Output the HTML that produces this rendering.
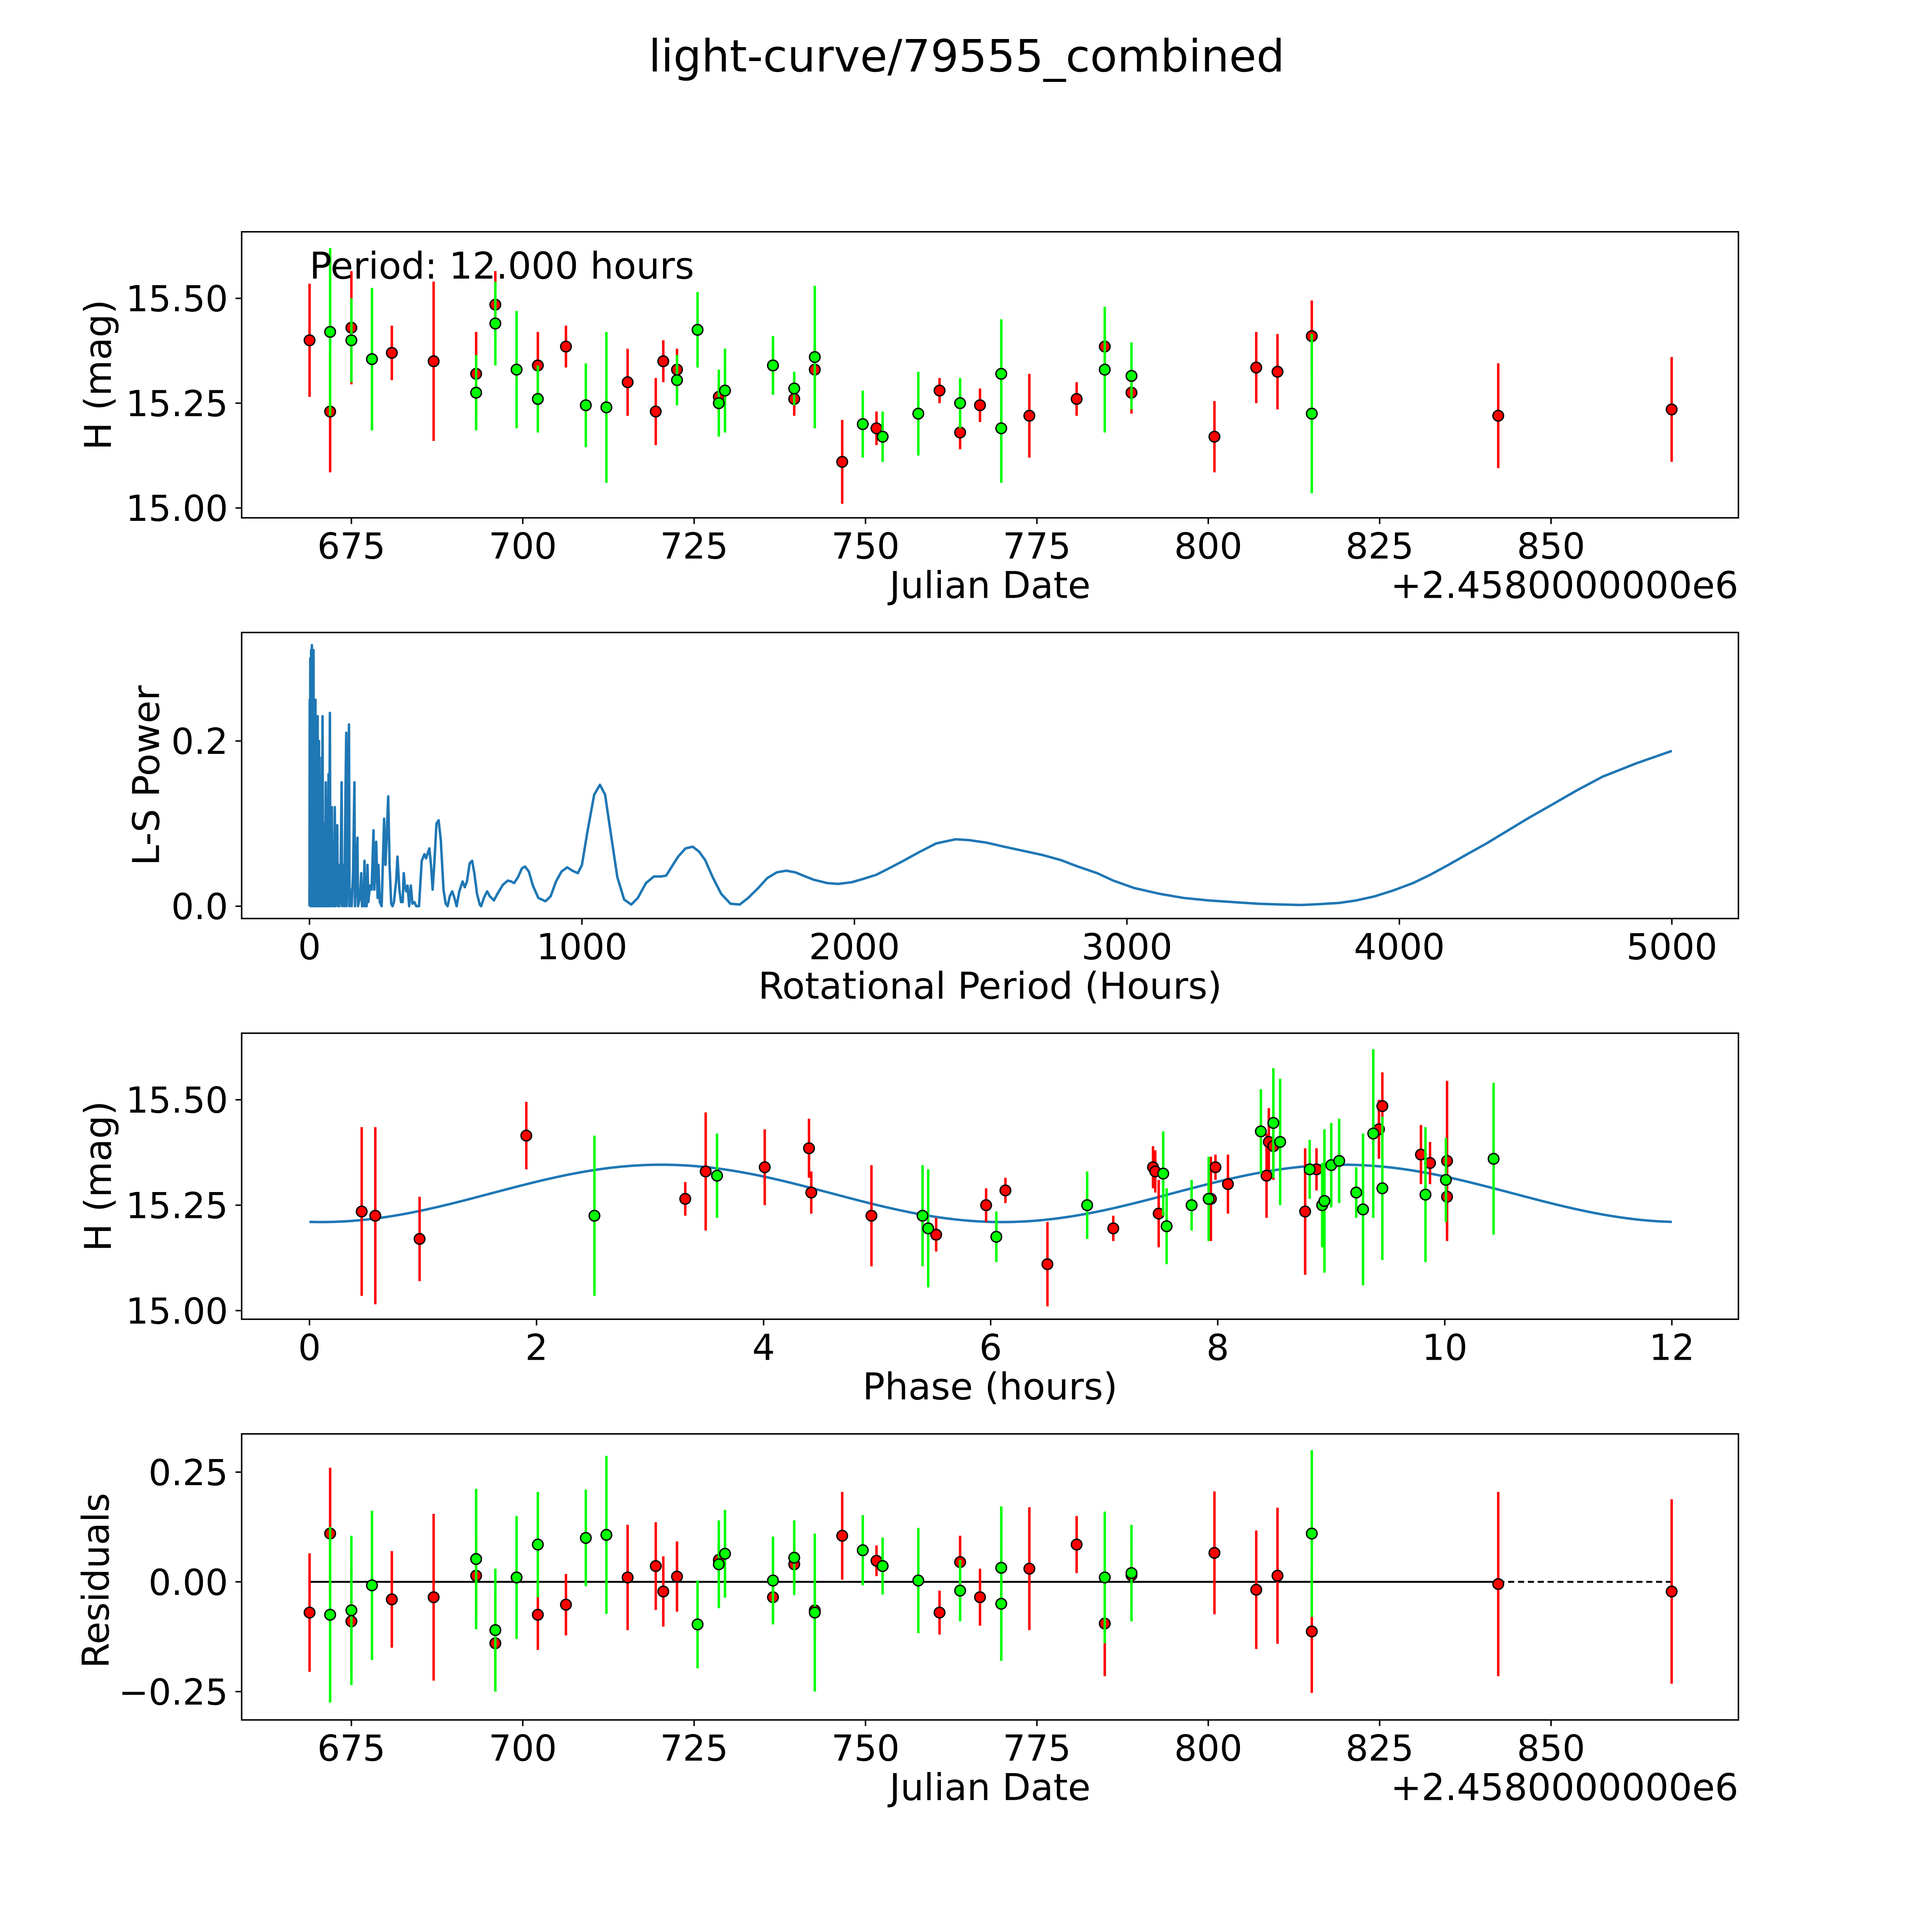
<!DOCTYPE html>
<html><head><meta charset="utf-8"><style>
html,body{margin:0;padding:0;background:#fff;overflow:hidden;width:100vw;height:100vh;}
svg{display:block;width:100vw;height:100vh;font-family:"DejaVu Sans","Liberation Sans",sans-serif;}
</style></head><body>
<svg id="fig" viewBox="0 0 1567 1567" preserveAspectRatio="xMidYMid meet" xmlns="http://www.w3.org/2000/svg">
<rect x="0" y="0" width="1567" height="1567" fill="#fff"/>
<text x="784" y="58" font-size="36" text-anchor="middle">light-curve/79555_combined</text>
<g id="layer"></g>
</svg>
<script>
// ---- Panel 1 / residual data (JD offset from 2458000) ----
const redJD  = [668.9,671.9,675,680.9,687,693.2,696,702.2,706.3,715.3,719.4,720.5,722.5,728.6,736.5,739.6,742.6,746.6,751.6,760.8,763.8,766.7,773.9,780.8,784.9,788.8,800.9,807,810.1,815.1,842.3,867.6];
const redMag = [15.40,15.23,15.43,15.37,15.35,15.32,15.485,15.34,15.385,15.30,15.23,15.35,15.33,15.265,15.34,15.26,15.33,15.11,15.19,15.28,15.18,15.245,15.22,15.26,15.385,15.275,15.17,15.335,15.325,15.41,15.22,15.235];
const redErr = [0.135,0.145,0.135,0.065,0.19,0.1,0.08,0.08,0.05,0.08,0.08,0.05,0.05,0.04,0.04,0.04,0.06,0.1,0.04,0.03,0.04,0.04,0.1,0.04,0.07,0.05,0.085,0.085,0.09,0.085,0.125,0.125];
const grnJD  = [671.9,675,678,693.2,696,699.1,702.2,709.2,712.2,722.5,725.5,728.6,729.5,736.5,739.6,742.6,749.6,752.5,757.7,763.8,769.8,769.8,784.9,788.8,815.1];
const grnMag = [15.42,15.40,15.355,15.275,15.44,15.33,15.26,15.245,15.24,15.305,15.425,15.25,15.28,15.34,15.285,15.36,15.20,15.17,15.225,15.25,15.32,15.19,15.33,15.315,15.225];
const grnErr = [0.2,0.1,0.17,0.09,0.1,0.14,0.08,0.1,0.18,0.06,0.09,0.08,0.1,0.07,0.04,0.17,0.08,0.06,0.1,0.06,0.13,0.13,0.15,0.08,0.19];
// ---- Periodogram ----
const lsPer = [0,1,2,3,4,6,7,9,10,12,13,15,16,18,19,22,23,26,27,30,32,35,37,40,42,45,46,48,50,55,57,60,62,65,67,70,72,75,77,82,84,88,90,93,95,102,104,108,110,114,118,120,125,128,132,135,137,140,145,147,152,155,160,165,167,172,176,178,185,190,193,198,202,205,210,213,216,222,228,235,238,245,250,253,258,265,274,279,284,289,294,300,305,310,318,323,330,336,342,346,350,355,360,366,372,378,385,392,402,412,422,428,440,446,452,458,466,474,482,492,500,507,515,524,532,540,550,562,570,578,588,597,605,615,625,630,640,652,662,677,690,710,728,740,751,765,780,791,805,820,840,866,885,905,925,946,965,985,1000,1020,1045,1066,1085,1105,1130,1155,1181,1205,1235,1264,1290,1309,1330,1353,1380,1407,1430,1452,1480,1511,1545,1579,1610,1647,1680,1715,1750,1783,1820,1851,1900,1941,1990,2032,2080,2122,2180,2235,2300,2371,2420,2484,2550,2620,2690,2756,2820,2891,2950,3027,3120,3208,3300,3389,3480,3570,3640,3706,3780,3842,3910,3977,4050,4113,4180,4249,4320,4385,4470,4566,4650,4747,4870,5000];
const lsPow = [0,0.25,0.02,0.30,0,0.31,0.05,0.316,0,0.30,0.05,0.31,0,0.2,0,0.25,0,0.18,0,0.23,0,0.2,0,0.12,0,0.18,0,0.23,0,0.1,0,0.15,0,0.09,0,0.16,0,0.234,0,0.12,0,0.06,0,0.12,0,0.098,0,0.05,0,0.03,0.15,0,0.05,0,0.13,0.21,0,0.05,0.22,0,0.02,0,0.04,0.15,0,0.04,0.083,0,0.01,0.04,0,0,0.055,0,0,0.05,0.005,0.025,0.02,0.092,0.02,0.078,0.01,0.05,0.005,0,0.106,0.05,0.09,0.133,0.05,0.003,0,0.005,0.03,0.06,0.02,0.005,0.005,0.04,0.025,0.018,0.025,0,0.025,0.003,0.005,0,0,0.055,0.063,0.058,0.07,0.05,0.02,0.05,0.1,0.104,0.08,0.02,0.003,0,0.012,0.018,0.01,0,0.018,0.03,0.023,0.03,0.052,0.055,0.04,0.015,0.002,0,0.01,0.018,0.012,0.007,0.015,0.026,0.031,0.03,0.028,0.035,0.046,0.048,0.042,0.025,0.01,0.006,0.012,0.03,0.042,0.047,0.043,0.04,0.05,0.09,0.135,0.147,0.135,0.09,0.035,0.008,0.002,0.01,0.028,0.036,0.036,0.037,0.048,0.06,0.07,0.072,0.066,0.056,0.035,0.015,0.003,0.002,0.01,0.022,0.034,0.041,0.043,0.041,0.036,0.032,0.028,0.027,0.029,0.033,0.038,0.045,0.055,0.065,0.076,0.081,0.08,0.077,0.072,0.067,0.062,0.056,0.048,0.04,0.031,0.022,0.015,0.01,0.007,0.005,0.003,0.002,0.0015,0.0025,0.004,0.007,0.012,0.019,0.028,0.038,0.05,0.063,0.076,0.089,0.106,0.124,0.14,0.157,0.173,0.188];
// ---- Phase-folded data ----
const redPh   = [0.46,0.58,0.97,1.91,3.31,3.49,4.01,4.40,4.42,4.95,5.52,5.96,6.13,6.5,7.08,7.43,7.45,7.48,7.94,7.98,8.09,8.43,8.45,8.49,8.77,8.87,9.42,9.45,9.79,9.87,10.02,10.02];
const redPhMag= [15.235,15.225,15.17,15.415,15.265,15.33,15.34,15.385,15.28,15.225,15.18,15.25,15.285,15.11,15.195,15.34,15.33,15.23,15.265,15.34,15.30,15.32,15.40,15.39,15.235,15.335,15.43,15.485,15.37,15.35,15.355,15.27];
const redPhErr= [0.2,0.21,0.1,0.08,0.04,0.14,0.09,0.07,0.05,0.12,0.04,0.04,0.03,0.1,0.03,0.05,0.05,0.08,0.1,0.03,0.07,0.1,0.08,0.08,0.15,0.05,0.07,0.08,0.07,0.05,0.19,0.085];
const grnPh   = [2.51,3.59,5.40,5.45,6.05,6.85,7.52,7.55,7.77,7.92,8.38,8.49,8.55,8.81,8.92,8.94,9.00,9.07,9.22,9.28,9.37,9.45,9.83,10.01,10.43];
const grnPhMag= [15.225,15.32,15.225,15.195,15.175,15.25,15.325,15.2,15.25,15.265,15.425,15.445,15.40,15.335,15.25,15.26,15.345,15.355,15.28,15.24,15.42,15.29,15.275,15.31,15.36];
const grnPhErr= [0.19,0.1,0.12,0.14,0.06,0.08,0.1,0.09,0.06,0.1,0.1,0.13,0.15,0.07,0.1,0.17,0.1,0.1,0.06,0.18,0.2,0.17,0.16,0.1,0.18];
// ---- Model (fitted sinusoid) parameters ----
const modelMean = [15.278];
const modelAmp  = [0.068];
const modelPeak = [3.1];
// ---- Residuals ----
const redResJD  = redJD;
const redRes    = [-0.07,0.11,-0.09,-0.04,-0.035,0.014,-0.14,-0.075,-0.052,0.01,0.036,-0.022,0.012,0.05,-0.035,0.04,-0.065,0.105,0.048,-0.07,0.045,-0.035,0.03,0.085,-0.095,0.015,0.066,-0.018,0.014,-0.113,-0.005,-0.022];
const redResErr = [0.135,0.15,0.13,0.11,0.19,0.1,0.11,0.08,0.07,0.12,0.1,0.08,0.08,0.04,0.05,0.05,0.07,0.1,0.035,0.05,0.06,0.065,0.14,0.065,0.12,0.08,0.14,0.135,0.155,0.14,0.21,0.21];
const grnResJD  = [671.9,675,678,693.2,696,699.1,702.2,709.2,712.2,725.5,728.6,729.5,736.5,739.6,742.6,749.6,752.5,757.7,763.8,769.8,769.8,784.9,788.8,815.1];
const grnRes    = [-0.075,-0.065,-0.008,0.052,-0.11,0.01,0.085,0.1,0.107,-0.097,0.04,0.064,0.003,0.055,-0.07,0.072,0.036,0.003,-0.02,0.032,-0.05,0.01,0.02,0.11];
const grnResErr = [0.2,0.17,0.17,0.16,0.14,0.14,0.12,0.11,0.18,0.1,0.1,0.1,0.1,0.085,0.18,0.08,0.065,0.12,0.07,0.14,0.13,0.15,0.11,0.19];
const jdTicks   = [675,700,725,750,775,800,825,850];
const magTicks  = [15.00,15.25,15.50];
const lsXTicks  = [0,1000,2000,3000,4000,5000];
const lsYTicks  = [0.0,0.2];
const phTicks   = [0,2,4,6,8,10,12];
const resTicks  = [-0.25,0.00,0.25];

const NS='http://www.w3.org/2000/svg';
const layer=document.getElementById('layer');
function mk(tag,attrs,parent){const e=document.createElementNS(NS,tag);for(const k in attrs)e.setAttribute(k,attrs[k]);(parent||layer).appendChild(e);return e;}
function lin(d0,d1,r0,r1){return v=>r0+(v-d0)*(r1-r0)/(d1-d0);}

const L=196,R=1410;
const TF=29, LF=30;
const xJD=lin(675,850,285,1258);
function frame(top,name){
  const g=mk('g',{});
  
  
  const r=mk('rect',{x:L,y:top,width:R-L,height:232,fill:'none',stroke:'#000','stroke-width':1.2},g);
  
  
  return g;
}
function xticks(g,ticks,sx,bottom,fmt,name){
  ticks.forEach(t=>{
    const x=sx(t);
    mk('line',{x1:x,y1:bottom,x2:x,y2:bottom+5,stroke:'#000','stroke-width':1.2},g);
    const tx=mk('text',{x:x,y:bottom+33,'font-size':TF,'text-anchor':'middle'},g);
    tx.textContent=fmt(t);
    
    
  });
}
function yticks(g,ticks,sy,fmt,name){
  ticks.forEach(t=>{
    const y=sy(t);
    mk('line',{x1:L-5,y1:y,x2:L,y2:y,stroke:'#000','stroke-width':1.2},g);
    const tx=mk('text',{x:L-11,y:y+10.5,'font-size':TF,'text-anchor':'end'},g);
    tx.textContent=fmt(t);
    
    
  });
}
function label(g,txt,x,y,rot,name){
  const t=mk('text',{x:x,y:y,'font-size':LF,'text-anchor':'middle'},g);
  if(rot)t.setAttribute('transform','rotate(-90 '+x+' '+y+')');
  t.textContent=txt;
  
  
}
function errpts(g,xs,ys,es,sx,sy,col,name){
  xs.forEach((xv,i)=>{
    const x=sx(xv);
    const bar=mk('line',{x1:x,y1:sy(ys[i]-es[i]),x2:x,y2:sy(ys[i]+es[i]),stroke:col,'stroke-width':2},g);
    
    
  });
  xs.forEach((xv,i)=>{
    const c=mk('circle',{cx:sx(xv),cy:sy(ys[i]),r:4.3,fill:col,stroke:'#000','stroke-width':1.1},g);
    
    
  });
}
const fmt2=v=>v.toFixed(2).replace('-','\u2212');

// Panel 1
{
  const g=frame(188,'light-curve-panel');
  const sy=lin(15.0,15.5,412,242);
  errpts(g,redJD,redMag,redErr,xJD,sy,'#ff0000','red-series');
  errpts(g,grnJD,grnMag,grnErr,xJD,sy,'#00ff00','green-series');
  xticks(g,jdTicks,xJD,420,v=>String(v),'x-axis');
  yticks(g,magTicks,sy,fmt2,'y-axis');
  label(g,'Julian Date',803,485,false,'x-axis-title');
  label(g,'H (mag)',90,304,true,'y-axis-title');
  const o=mk('text',{x:R,y:485,'font-size':LF,'text-anchor':'end'},g);o.textContent='+2.4580000000e6';
  
  
  const p=mk('text',{x:251,y:226,'font-size':30},g);p.textContent='Period: 12.000 hours';
  
  
}
// Panel 2
{
  const g=frame(513,'periodogram-panel');
  const sx=lin(0,5000,251,1356), sy=lin(0,0.2,735,601);
  let d='';lsPer.forEach((p,i)=>{d+=(i?'L':'M')+sx(p).toFixed(2)+' '+sy(lsPow[i]).toFixed(2);});
  const pl=mk('path',{d:d,fill:'none',stroke:'#1f77b4','stroke-width':2,'stroke-linejoin':'round'},g);
  
  
  xticks(g,lsXTicks,sx,745,v=>String(v),'x-axis');
  yticks(g,lsYTicks,sy,v=>v.toFixed(1),'y-axis');
  label(g,'Rotational Period (Hours)',803,810,false,'x-axis-title');
  label(g,'L-S Power',129,629,true,'y-axis-title');
}
// Panel 3
{
  const g=frame(838,'phase-panel');
  const sx=lin(0,12,251,1356), sy=lin(15.0,15.5,1063,892);
  let d='';for(let i=0;i<=240;i++){const t=i*12/240;const m=modelMean[0]+modelAmp[0]*Math.cos(2*Math.PI*(t-modelPeak[0])/6);d+=(i?'L':'M')+sx(t).toFixed(2)+' '+sy(m).toFixed(2);}
  const pl=mk('path',{d:d,fill:'none',stroke:'#1f77b4','stroke-width':2},g);
  
  
  errpts(g,redPh,redPhMag,redPhErr,sx,sy,'#ff0000','red-phase');
  errpts(g,grnPh,grnPhMag,grnPhErr,sx,sy,'#00ff00','green-phase');
  xticks(g,phTicks,sx,1070,v=>String(v),'x-axis');
  yticks(g,magTicks,sy,fmt2,'y-axis');
  label(g,'Phase (hours)',803,1135,false,'x-axis-title');
  label(g,'H (mag)',90,954,true,'y-axis-title');
}
// Panel 4
{
  const g=frame(1163,'residuals-panel');
  const sy=lin(0,0.25,1283,1194);
  const l1=mk('line',{x1:xJD(668.9),y1:sy(0),x2:xJD(842.3),y2:sy(0),stroke:'#000','stroke-width':1.5},g);
  
  
  const l2=mk('line',{x1:xJD(842.3),y1:sy(0),x2:xJD(867.6),y2:sy(0),stroke:'#000','stroke-width':1.5,'stroke-dasharray':'5,3'},g);
  
  
  errpts(g,redResJD,redRes,redResErr,xJD,sy,'#ff0000','red-residual');
  errpts(g,grnResJD,grnRes,grnResErr,xJD,sy,'#00ff00','green-residual');
  xticks(g,jdTicks,xJD,1395,v=>String(v),'x-axis');
  yticks(g,resTicks,sy,fmt2,'y-axis');
  label(g,'Julian Date',803,1460,false,'x-axis-title');
  label(g,'Residuals',88,1282,true,'y-axis-title');
  const o=mk('text',{x:R,y:1460,'font-size':LF,'text-anchor':'end'},g);o.textContent='+2.4580000000e6';
  
  
}
</script>
</body></html>
